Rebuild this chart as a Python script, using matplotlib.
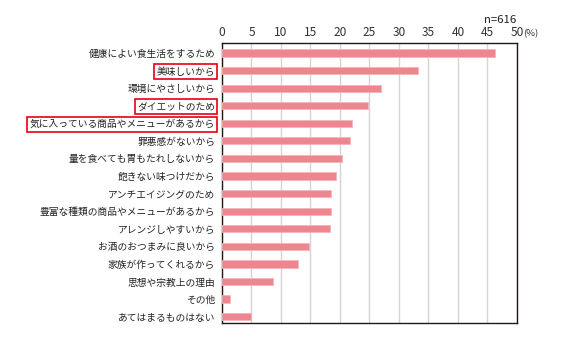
import matplotlib
matplotlib.use("Agg")
import matplotlib.pyplot as plt

plt.rcParams['font.family'] = ['Noto Sans CJK JP', 'DejaVu Sans']

# reasons (top to bottom) and share of respondents (%)
labels = [
    "健康によい食生活をするため",
    "美味しいから",
    "環境にやさしいから",
    "ダイエットのため",
    "気に入っている商品やメニューがあるから",
    "罪悪感がないから",
    "量を食べても胃もたれしないから",
    "飽きない味つけだから",
    "アンチエイジングのため",
    "豊富な種類の商品やメニューがあるから",
    "アレンジしやすいから",
    "お酒のおつまみに良いから",
    "家族が作ってくれるから",
    "思想や宗教上の理由",
    "その他",
    "あてはまるものはない",
]
values = [46.3, 33.3, 26.9, 24.7, 22.1, 21.7, 20.3, 19.4, 18.4, 18.4, 18.3, 14.8, 12.9, 8.7, 1.4, 4.9]
boxed = ["美味しいから", "ダイエットのため", "気に入っている商品やメニューがあるから"]
xticks = [0, 5, 10, 15, 20, 25, 30, 35, 40, 45, 50]

fig = plt.figure(figsize=(5.67, 3.41), dpi=100)
ax = fig.add_axes([0.3915, 0.0528, 0.5203, 0.8202])

pos = list(range(len(labels)))
ax.barh(pos, values, height=0.41, color="#ee8690", edgecolor="#f5b5ba", linewidth=0.6, zorder=3)

ax.set_xlim(0, 50)
ax.set_ylim(len(labels) - 0.64, -0.55)
ax.set_xticks(xticks)
ax.xaxis.tick_top()
ax.tick_params(axis="x", length=0, pad=3, labelsize=8.6, labelcolor="#333333")
ax.tick_params(axis="y", length=0, pad=5)
ax.set_yticks(pos)
ax.set_yticklabels(labels, fontsize=7.0, color="#222222")
ax.grid(axis="x", color="#d4d4d4", linewidth=1.0, zorder=0)
for s in ax.spines.values():
    s.set_color("#231815")
    s.set_linewidth(1.0)

for t in ax.get_yticklabels():
    if t.get_text() in boxed:
        t.set_bbox(dict(facecolor="white", edgecolor="#e60012", linewidth=1.2, boxstyle="square,pad=0.25"))

fig.text(500 / 567, 1 - 20 / 341, "n=616", fontsize=8.2, ha="center", va="center", color="#222222")
fig.text(523 / 567, 1 - 34 / 341, "(%)", fontsize=6.8, ha="left", va="center", color="#333333")

fig.savefig("out.png", dpi=100)
